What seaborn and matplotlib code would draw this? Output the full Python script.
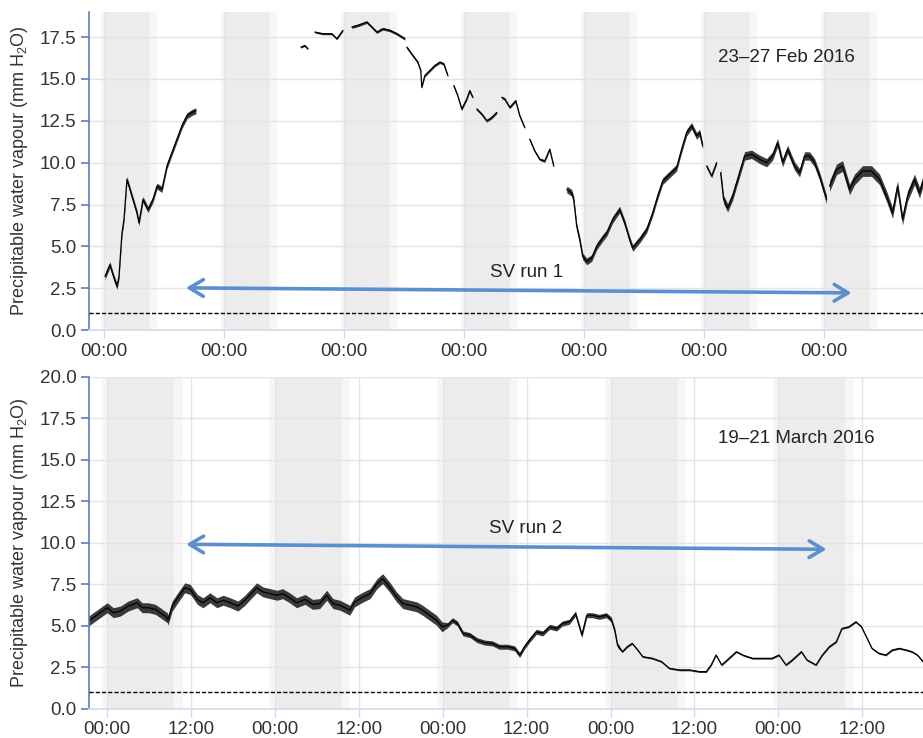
import matplotlib
matplotlib.use("Agg")
import matplotlib.pyplot as plt
import numpy as np
import pandas as pd
import seaborn as sns

nan = np.nan

# 23-27 Feb 2016 : hours after first midnight, PWV (mm), nan marks a data gap
feb_hours = [0.2, 1.2, 1.8, 2.6, 3.0, 3.6, 4.0, 4.6, 5.2, 5.8, 6.6, 7.0, 7.8, 8.8, 9.8, 10.6, 11.6,
             12.6, 13.6, 14.6, 15.6, 16.6, 17.6, 18.4, nan,
             39.4, 40.2, 40.8, nan,
             42.2, 43.8, 45.6, 46.6, 47.8, nan,
             49.6, 50.8, 52.6, 53.6, 54.6, 55.8, 57.2, 58.6, 60.2, nan,
             60.6, 61.8, 62.8, 63.4, 63.6, 64.2, 65.2, 66.2, 67.2, 68.0, 68.8, nan,
             70.0, 70.8, 71.6, 72.6, 73.2, 73.8, nan,
             74.6, 75.6, 76.6, 77.6, 78.6, nan,
             79.6, 80.2, 81.2, 82.4, 83.2, 84.2, nan,
             85.2, 86.2, 87.2, 88.2, 89.2, 90.0, nan,
             92.6, 93.6, 94.0, 94.6, 95.2, 95.8, 96.6, 97.6, 98.6, 99.8, 100.6, 101.8, 103.2,
             104.2, 105.2, 105.8, 107.2, 108.6, 109.8, 110.8, 111.8, 113.2, 114.6, 115.6, 116.6,
             117.6, 118.6, 119.2, 119.8, nan,
             120.6, 121.6, 122.6, nan,
             123.4, 124.0, 124.8, 125.8, 126.8, 128.2, 129.6, 131.2, 132.6, 133.8, 134.8, 135.8,
             136.8, 138.2, 139.2, 140.2, 141.2, 142.2, 143.2, 144.2, 144.6, nan,
             145.2, 146.6, 147.8, 149.2, 150.2, 151.8, 153.6, 155.2, 156.6, 157.8, 158.8, 159.8,
             160.8, 162.2, 163.2, 163.9]
feb_pwv = [3.2, 3.9, 3.3, 2.6, 3.2, 5.8, 6.6, 9.0, 8.4, 7.8, 7.0, 6.4, 7.8, 7.2, 7.8, 8.6, 8.4,
           9.8, 10.6, 11.4, 12.2, 12.8, 13.0, 13.1, nan,
           16.9, 17.0, 16.8, nan,
           17.8, 17.7, 17.7, 17.4, 17.9, nan,
           18.1, 18.2, 18.4, 18.1, 17.8, 18.0, 17.9, 17.7, 17.4, nan,
           16.9, 16.4, 16.0, 15.5, 14.5, 15.2, 15.5, 15.8, 16.0, 15.9, 15.2, nan,
           14.6, 14.0, 13.2, 13.8, 14.3, 13.9, nan,
           13.2, 12.9, 12.5, 12.7, 13.0, nan,
           13.9, 13.8, 13.3, 13.7, 12.8, 12.1, nan,
           11.4, 10.7, 10.2, 10.1, 10.8, 9.8, nan,
           8.4, 8.2, 7.8, 6.2, 5.4, 4.4, 4.1, 4.3, 5.0, 5.5, 5.8, 6.6, 7.2,
           6.4, 5.4, 4.9, 5.4, 6.0, 7.0, 8.0, 8.9, 9.3, 9.7, 10.8, 11.8,
           12.2, 11.6, 11.8, 11.0, nan,
           9.8, 9.2, 10.0, nan,
           9.4, 7.8, 7.3, 8.0, 9.0, 10.4, 10.5, 10.2, 10.0, 10.4, 11.2, 10.0,
           10.8, 9.8, 9.4, 10.4, 10.4, 10.0, 9.2, 8.2, 7.8, nan,
           8.6, 9.6, 9.8, 8.4, 9.0, 9.5, 9.5, 9.0, 8.0, 7.0, 8.6, 6.6,
           8.0, 9.0, 8.2, 8.9]
# half-width of the fast jitter, one value per segment
feb_spread = [0.18, 0.06, 0.06, 0.08, 0.08, 0.08, 0.08, 0.08, 0.08, 0.2, 0.1, 0.25, 0.32]

# 19-21 March 2016
mar_hours = [-2.8, -2.0, -1.0, 0.0, 0.9, 1.9, 3.0, 4.3, 5.0, 5.9, 6.9, 7.6, 8.6, 8.7, 9.3, 10.1,
             11.1, 11.9, 12.9, 13.7, 14.7, 15.7, 16.6, 17.6, 18.7, 19.7, 20.7, 21.4, 22.3, 23.3,
             24.3, 25.1, 26.1, 27.1, 28.3, 29.4, 30.4, 31.4, 32.3, 33.3, 34.7, 35.4, 36.4, 37.6,
             38.6, 39.4, 40.4, 41.4, 42.3, 43.3, 44.3, 45.1, 46.1, 47.1, 47.9, 48.7, 49.4, 50.1,
             50.9, 51.9, 52.9, 54.0, 55.1, 56.1, 57.3, 58.3, 59.0, 59.7, 60.4, 61.4, 62.3, 63.3,
             64.3, 65.1, 66.1, 67.0, 67.9, 68.6, 69.4, 70.4, 71.4, 72.1, 72.6, 73.0, 73.7, 74.4,
             75.1, 75.9, 76.6, 78.0, 79.3, 80.4, 81.9, 83.3, 84.7, 85.7, 86.4, 87.1, 87.9, 88.7,
             90.0, 90.9, 92.3, 93.7, 95.1, 96.1, 97.1, 98.0, 99.3, 100.1, 101.4, 102.3, 103.3,
             104.3, 105.1, 106.1, 107.1, 107.9, 108.6, 109.4, 110.4, 111.4, 112.3, 113.3, 114.3,
             115.1, 115.9, 116.7]
mar_pwv = [5.25, 5.5, 5.8, 6.1, 5.8, 5.9, 6.2, 6.4, 6.1, 6.1, 6.0, 5.8, 5.5, 5.35, 6.2, 6.7,
           7.3, 7.2, 6.6, 6.4, 6.7, 6.4, 6.55, 6.4, 6.2, 6.55, 7.0, 7.3, 7.05, 6.95,
           6.85, 6.95, 6.7, 6.4, 6.6, 6.3, 6.35, 6.85, 6.35, 6.25, 5.95, 6.45, 6.7, 6.95,
           7.55, 7.85, 7.35, 6.75, 6.35, 6.25, 6.15, 5.95, 5.65, 5.35, 4.95, 5.05, 5.35, 5.15,
           4.55, 4.45, 4.15, 4.0, 3.95, 3.75, 3.75, 3.65, 3.25, 3.75, 4.15, 4.65, 4.55, 4.95,
           4.85, 5.15, 5.25, 5.75, 4.45, 5.65, 5.65, 5.55, 5.65, 5.4, 4.75, 3.85, 3.45, 3.75,
           3.95, 3.55, 3.15, 3.05, 2.85, 2.45, 2.35, 2.35, 2.25, 2.25, 2.65, 3.25, 2.65, 2.95,
           3.45, 3.25, 3.05, 3.05, 3.05, 3.25, 2.65, 2.95, 3.45, 2.95, 2.65, 3.25, 3.75,
           4.05, 4.85, 4.95, 5.25, 4.95, 4.35, 3.65, 3.35, 3.25, 3.55, 3.65, 3.55,
           3.45, 3.25, 2.85]
mar_spread_until = [48, 73, 200]
mar_spread = [0.3, 0.15, 0.05]

threshold = 1.0
feb_xlim = (-3, 163.9)
mar_xlim = (-2.6, 116.7)

blue_axis = "#5b7fbf"
arrow_col = "#5b8fce"

sns.set_theme(style="white")
plt.rcParams["font.family"] = ["Liberation Sans", "DejaVu Sans"]
plt.rcParams["mathtext.fontset"] = "custom"
plt.rcParams["mathtext.rm"] = "Liberation Sans"
plt.rcParams["mathtext.it"] = "Liberation Sans:italic"


def feb_frame():
    t = np.array(feb_hours, dtype=float)
    v = np.array(feb_pwv, dtype=float)
    seg = np.cumsum(np.isnan(t))
    df = pd.DataFrame({"t": t, "v": v, "seg": seg}).dropna()
    df["seg"] = df["seg"].rank(method="dense").astype(int) - 1
    df["s"] = [feb_spread[k] for k in df["seg"]]
    return df


def mar_frame():
    t = np.array(mar_hours, dtype=float)
    v = np.array(mar_pwv, dtype=float)
    idx = np.searchsorted(mar_spread_until, t)
    df = pd.DataFrame({"t": t, "v": v, "seg": 0, "s": np.array(mar_spread)[idx]})
    return df


def style_axis(ax, ylim, xlim, xticks, xlabels, light, dark):
    for day in range(-1, 8):
        m = day * 24
        ax.axvspan(m + light[0], m + light[1], color="#f6f6f6", lw=0, zorder=0.1)
        ax.axvspan(m + dark[0], m + dark[1], color="#ececec", lw=0, zorder=0.2)
    ax.set_xlim(*xlim)
    ax.set_ylim(*ylim)
    ax.set_yticks(np.arange(0, ylim[1] + 0.01, 2.5))
    ax.set_yticklabels([f"{y:.1f}" for y in np.arange(0, ylim[1] + 0.01, 2.5)])
    ax.set_xticks(xticks)
    ax.set_xticklabels(xlabels)
    ax.set_axisbelow(True)
    ax.grid(axis="y", color="#e4e4e4", lw=1)
    ax.grid(axis="x", color="#dfe5ef", lw=1)
    for sp in ["top", "right"]:
        ax.spines[sp].set_visible(False)
    ax.spines["left"].set_color(blue_axis)
    ax.spines["left"].set_linewidth(1.2)
    ax.spines["bottom"].set_color("#d5ddea")
    ax.tick_params(axis="y", which="both", left=True, color=blue_axis, length=6, width=1.2,
                   labelsize=13.5, labelcolor="#333333", pad=3)
    ax.tick_params(axis="x", bottom=True, color="#cfd9ea", length=6, width=1,
                   labelsize=13.5, labelcolor="#333333", pad=3)
    ax.axhline(threshold, color="black", lw=1, ls=(0, (3, 1.5)), zorder=3)
    ax.set_xlabel("")
    ax.set_ylabel("Precipitable water vapour (mm H$_2$O)", fontsize=13, color="#333333")
    ax.yaxis.set_label_coords(-0.071, 0.5)


def draw_trace(ax, df):
    for _, g in df.groupby("seg"):
        ax.fill_between(g["t"], g["v"] - g["s"], g["v"] + g["s"], color="#1a1a1a",
                        alpha=0.85, lw=0, zorder=2)
    sns.lineplot(data=df, x="t", y="v", units="seg", estimator=None, color="black",
                 lw=0.9, ax=ax, legend=False, zorder=2.5)


fig = plt.figure(figsize=(9.23, 7.38), dpi=100)
ax1 = fig.add_axes([0.0964, 0.5528, 0.9036, 0.4309])
ax2 = fig.add_axes([0.0964, 0.0393, 0.9036, 0.4499])

draw_trace(ax1, feb_frame())
style_axis(ax1, (0, 19), feb_xlim, np.arange(0, 145, 24), ["00:00"] * 7,
           (-0.6, 10.6), (0.3, 9.2))
ax1.text(136.5, 16.3, "23\u201327 Feb 2016", fontsize=13.5, ha="center", va="center", color="#222222")
ax1.text(84.5, 3.45, "SV run 1", fontsize=13.5, ha="center", va="center", color="#222222")
ax1.annotate("", xy=(16.4, 2.52), xytext=(149.6, 2.22),
             arrowprops=dict(arrowstyle="<->,head_length=0.5,head_width=0.3", color=arrow_col,
                             lw=2.6, mutation_scale=20, shrinkA=0, shrinkB=0), zorder=4)

mticks = np.arange(0, 109, 12)
draw_trace(ax2, mar_frame())
style_axis(ax2, (0, 20), mar_xlim, mticks, ["00:00" if h % 24 == 0 else "12:00" for h in mticks],
           (-0.8, 10.8), (0.1, 9.6))
ax2.text(98.6, 16.3, "19\u201321 March 2016", fontsize=13.5, ha="center", va="center", color="#222222")
ax2.text(59.8, 10.9, "SV run 2", fontsize=13.5, ha="center", va="center", color="#222222")
ax2.annotate("", xy=(11.3, 9.92), xytext=(102.9, 9.62),
             arrowprops=dict(arrowstyle="<->,head_length=0.5,head_width=0.3", color=arrow_col,
                             lw=2.6, mutation_scale=20, shrinkA=0, shrinkB=0), zorder=4)

fig.savefig("out.png", dpi=100)
